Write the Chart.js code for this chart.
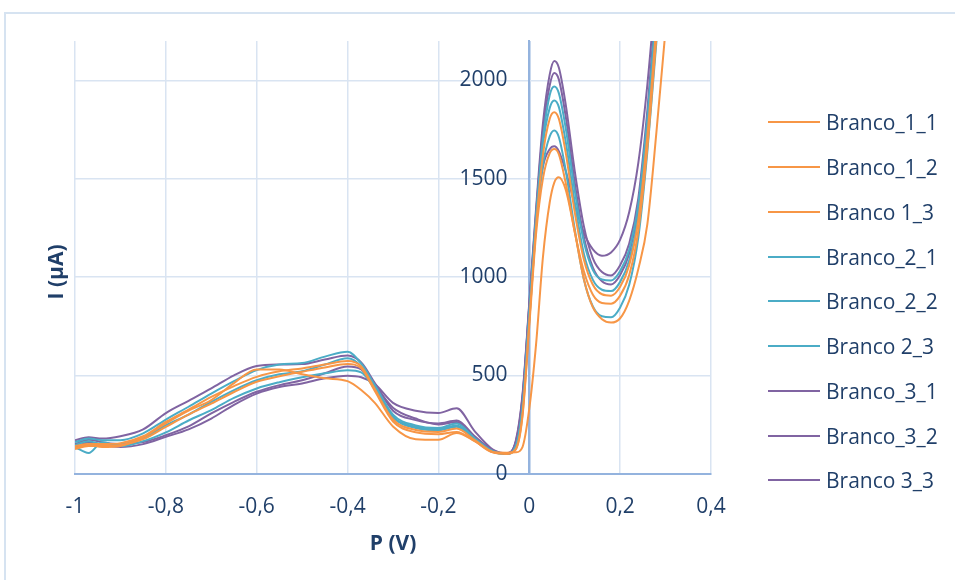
<!DOCTYPE html>
<html>
<head>
<meta charset="utf-8">
<script src="https://cdn.jsdelivr.net/npm/chart.js@4.4.1/dist/chart.umd.min.js"></script>
<style>
  body { margin: 0; background: #fff; }
  #frame { position: absolute; left: 4px; top: 12px; width: 1000px; height: 600px;
           border-left: 2px solid #d6e3f1; border-top: 2px solid #d6e3f1; }
  #c { position: absolute; left: 0; top: 0; }
  #legend { position: absolute; left: 768px; top: 100px; font: 21px 'Open Sans'; color: #203f69; }
  #legend .item { height: 44.75px; display: flex; align-items: center; white-space: nowrap; }
  #legend .swatch { width: 52px; height: 2px; margin-right: 6px; }
</style>
</head>
<body>
<div id="frame"></div>
<canvas id="c" width="955" height="580"></canvas>
<div id="legend"></div>
<script>
// potential (V), shared by all series
const potential = [-1, -0.97, -0.94, -0.9, -0.85, -0.8, -0.75, -0.7, -0.65, -0.6, -0.55, -0.5, -0.45, -0.4, -0.37, -0.34, -0.3, -0.25, -0.2, -0.16, -0.12, -0.08,
  -0.05, -0.03, -0.015, 0, 0.015, 0.03, 0.045, 0.055, 0.065, 0.08, 0.1, 0.12, 0.14, 0.16, 0.18, 0.2, 0.22, 0.24, 0.26, 0.28, 0.3];

// current (uA) per series
const branco_1_1 = [140, 150, 150, 155, 190, 263, 325, 390, 445, 492, 520, 535, 555, 572, 545, 430, 275, 222, 212, 229, 170, 110,
  103, 125, 300, 770, 1260, 1620, 1805, 1838, 1805, 1635, 1330, 1090, 960, 912, 905, 950, 1060, 1290, 1720, 2280, 2760];
const branco_1_2 = [125, 140, 140, 145, 175, 238, 300, 356, 415, 467, 495, 518, 540, 557, 535, 420, 265, 210, 200, 212, 165, 108,
  100, 122, 290, 750, 1220, 1500, 1630, 1651, 1625, 1480, 1230, 1030, 910, 868, 864, 905, 1010, 1235, 1660, 2220, 2700];
const branco_1_3 = [130, 145, 135, 140, 185, 255, 320, 374, 460, 530, 530, 505, 485, 470, 425, 360, 240, 175, 172, 207, 165, 108,
  106, 108, 135, 330, 660, 1100, 1380, 1480, 1507, 1445, 1230, 990, 845, 785, 768, 790, 880, 1040, 1270, 1740, 2260];
const branco_2_1 = [160, 178, 170, 170, 205, 275, 340, 407, 470, 526, 555, 562, 595, 620, 560, 450, 300, 245, 232, 255, 180, 114,
  101, 140, 340, 820, 1310, 1700, 1925, 1969, 1935, 1760, 1440, 1180, 1035, 987, 982, 1030, 1140, 1370, 1810, 2380, 2860];
const branco_2_2 = [145, 165, 150, 150, 180, 246, 300, 365, 425, 475, 505, 520, 555, 586, 545, 440, 290, 238, 226, 245, 175, 112,
  101, 135, 330, 800, 1290, 1670, 1860, 1898, 1865, 1690, 1380, 1120, 985, 935, 928, 975, 1085, 1310, 1750, 2320, 2800];
const branco_2_3 = [135, 105, 160, 140, 165, 210, 270, 323, 385, 433, 465, 490, 510, 526, 515, 430, 285, 232, 220, 238, 172, 111,
  100, 130, 320, 780, 1260, 1570, 1715, 1745, 1712, 1545, 1245, 990, 850, 800, 795, 845, 960, 1200, 1640, 2200, 2700];
const branco_3_1 = [170, 185, 178, 190, 225, 308, 370, 433, 500, 547, 555, 557, 580, 600, 565, 460, 320, 272, 255, 270, 190, 118,
  102, 165, 400, 870, 1350, 1780, 2030, 2098, 2065, 1880, 1540, 1260, 1095, 1025, 1008, 1060, 1170, 1400, 1850, 2420, 2900];
const branco_3_2 = [150, 172, 160, 150, 160, 195, 240, 306, 365, 416, 450, 475, 510, 545, 530, 450, 335, 280, 250, 262, 185, 116,
  104, 160, 390, 860, 1330, 1740, 1975, 2037, 2005, 1820, 1480, 1205, 1048, 978, 962, 1010, 1120, 1350, 1800, 2380, 2860];
const branco_3_3 = [130, 160, 145, 135, 150, 187, 225, 280, 350, 407, 440, 458, 485, 498, 490, 455, 360, 320, 308, 332, 215, 122,
  103, 155, 380, 850, 1290, 1560, 1650, 1665, 1640, 1540, 1370, 1225, 1140, 1108, 1125, 1190, 1330, 1580, 1980, 2500, 2950];

const seriesNames = ['Branco_1_1', 'Branco_1_2', 'Branco 1_3', 'Branco_2_1', 'Branco_2_2', 'Branco 2_3', 'Branco_3_1', 'Branco_3_2', 'Branco 3_3'];
const seriesValues = [branco_1_1, branco_1_2, branco_1_3, branco_2_1, branco_2_2, branco_2_3, branco_3_1, branco_3_2, branco_3_3];

const xTicks = [-1, -0.8, -0.6, -0.4, -0.2, 0, 0.2, 0.4];
const yTicks = [0, 500, 1000, 1500, 2000];

const ORANGE = '#f79646';
const TEAL = '#4bacc6';
const PURPLE = '#8064a2';
const seriesColors = [ORANGE, ORANGE, ORANGE, TEAL, TEAL, TEAL, PURPLE, PURPLE, PURPLE];

const textColor = '#203f69';
const gridColor = '#d9e4f2';
const axisColor = '#94b3de';
const font = { family: 'Open Sans', size: 21 };
const boldFont = { family: 'Open Sans', size: 21, weight: 'bold' };

const datasets = seriesNames.map((name, i) => ({
  label: name,
  data: potential.map((p, j) => ({ x: p, y: seriesValues[i][j] })),
  borderColor: seriesColors[i],
  backgroundColor: seriesColors[i],
  borderWidth: 2,
  pointRadius: 0,
  showLine: true,
  cubicInterpolationMode: 'monotone'
}));

// y axis title sits far left, away from the axis that crosses at x = 0
const yTitlePlugin = {
  id: 'yTitle',
  afterDraw(chart) {
    const ctx = chart.ctx;
    ctx.save();
    ctx.translate(57, 272);
    ctx.rotate(-Math.PI / 2);
    ctx.font = 'bold 21px "Open Sans"';
    ctx.fillStyle = textColor;
    ctx.textAlign = 'center';
    ctx.textBaseline = 'middle';
    ctx.fillText('I (µA)', 0, 0);
    ctx.restore();
  }
};

const chart = new Chart(document.getElementById('c'), {
  type: 'scatter',
  data: { datasets },
  plugins: [yTitlePlugin],
  options: {
    responsive: false,
    animation: false,
    layout: { padding: { left: 75, top: 41, bottom: 25, right: 244 } },
    plugins: {
      tooltip: { enabled: false },
      legend: { display: false }
    },
    scales: {
      x: {
        type: 'linear',
        min: -1,
        max: 0.4,
        afterBuildTicks: s => { s.ticks = xTicks.map(v => ({ value: v })); },
        ticks: {
          color: textColor,
          font,
          padding: 20.5,
          maxRotation: 0,
          callback: v => String(Number(v.toFixed(1))).replace('.', ',')
        },
        grid: {
          color: c => (c.tick && c.tick.value === 0 ? axisColor : gridColor),
          lineWidth: 1.5,
          drawTicks: false
        },
        border: { color: axisColor, width: 2 },
        title: { display: true, text: 'P (V)', color: textColor, font: boldFont, padding: { top: -8, bottom: -2 } }
      },
      y: {
        type: 'linear',
        min: 0,
        max: 2200,
        position: { x: 0 },
        afterBuildTicks: s => { s.ticks = yTicks.map(v => ({ value: v })); },
        ticks: { color: textColor, font, callback: v => String(v) + '    ' },
        grid: { color: gridColor, lineWidth: 1.5, drawTicks: false },
        border: { color: axisColor, width: 2 }
      }
    }
  }
});

// legend built from the chart's own datasets
const legendEl = document.getElementById('legend');
chart.data.datasets.forEach(ds => {
  const item = document.createElement('div');
  item.className = 'item';
  const sw = document.createElement('span');
  sw.className = 'swatch';
  sw.style.background = ds.borderColor;
  const label = document.createElement('span');
  label.textContent = ds.label;
  item.appendChild(sw);
  item.appendChild(label);
  legendEl.appendChild(item);
});
</script>
</body>
</html>
